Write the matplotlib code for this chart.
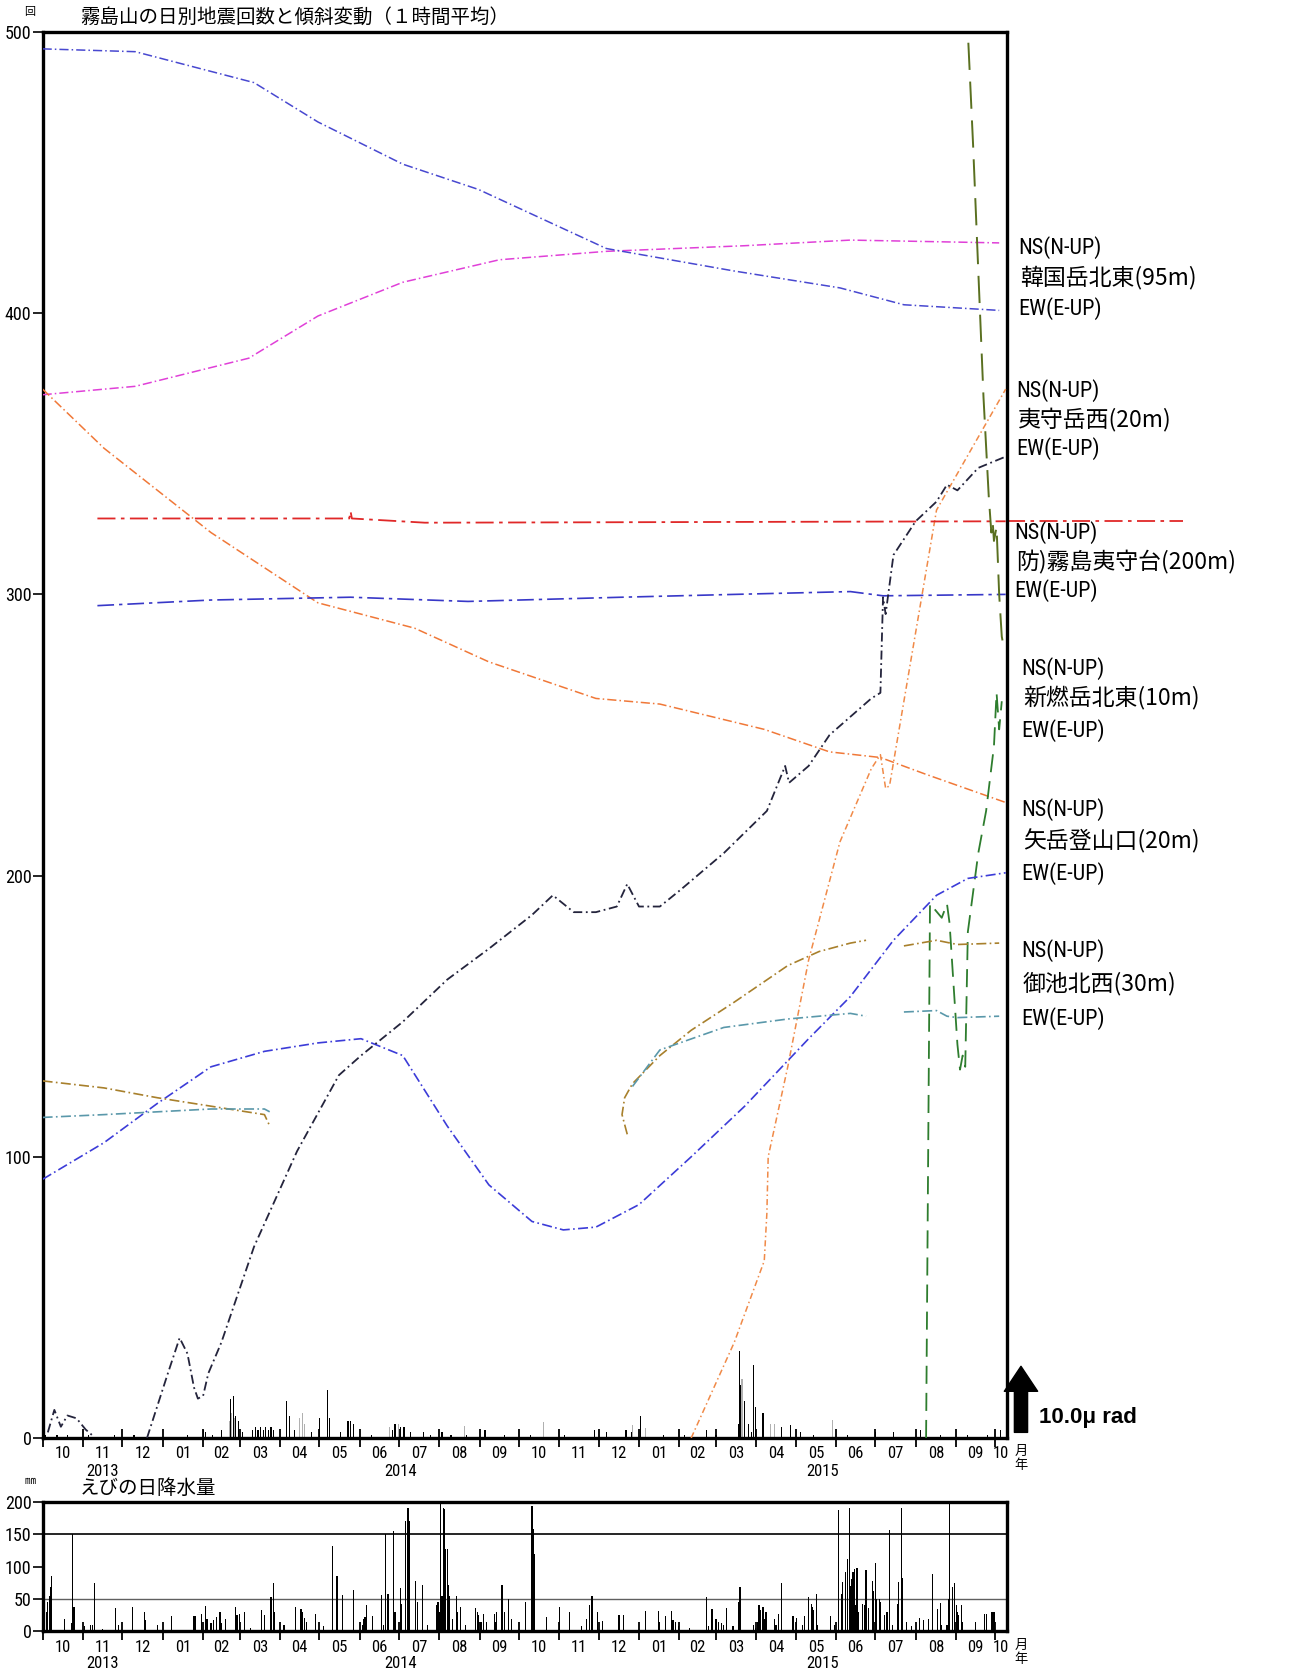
import numpy as np
import pandas as pd
import matplotlib
matplotlib.use('Agg')
import matplotlib.pyplot as plt
import matplotlib.transforms as mtransforms

plt.rcParams['font.family'] = ['Noto Sans CJK JP', 'DejaVu Sans']
NARROW = ['Liberation Sans Narrow', 'Roboto Condensed', 'Liberation Sans', 'DejaVu Sans']

W, H = 1300, 1671
x_start, x_end = pd.Timestamp('2013-10-01'), pd.Timestamp('2015-10-10')

# --- tilt records, drawn on the count scale with their own offsets ---
kara_ns_d = ['2013-10-01', '2013-12-11', '2014-03-08', '2014-04-30', '2014-07-04', '2014-09-16',
             '2014-12-07', '2015-03-23', '2015-06-12', '2015-10-04']
kara_ns_v = [371, 374, 384, 399, 411, 419, 422, 424, 426, 425]

kara_ew_d = ['2013-10-01', '2013-12-11', '2014-03-12', '2014-04-30', '2014-07-04', '2014-08-31',
             '2014-12-07', '2015-03-15', '2015-06-04', '2015-07-23', '2015-10-04']
kara_ew_v = [494, 493, 482, 468, 453, 444, 423, 415, 409, 403, 401]

ebino_ns_d = ['2013-10-01', '2013-11-17', '2014-02-07', '2014-04-30', '2014-07-13', '2014-09-08',
              '2014-11-29', '2015-01-17', '2015-04-07', '2015-05-27', '2015-07-05', '2015-08-09',
              '2015-10-09']
ebino_ns_v = [373, 352, 322, 297, 288, 276, 263, 261, 252, 244, 242, 236, 226]

ebino_ew_d = ['2015-02-10', '2015-03-15', '2015-04-07', '2015-04-09', '2015-04-10', '2015-04-25',
              '2015-05-11', '2015-06-04', '2015-06-28', '2015-07-05', '2015-07-09', '2015-07-12',
              '2015-07-23', '2015-08-17', '2015-10-09']
ebino_ew_v = [0, 34, 63, 80, 100, 132, 170, 212, 238, 243, 231, 232, 262, 330, 373]

kiri_ns_d = ['2013-11-12', '2014-05-24', '2014-05-25', '2014-05-26', '2014-07-21', '2015-10-09']
kiri_ns_v = [327, 327, 329.5, 327, 325.5, 326]

kiri_ew_d = ['2013-11-12', '2014-02-07', '2014-05-25', '2014-08-23', '2014-12-19', '2015-03-15',
             '2015-06-12', '2015-07-07', '2015-10-09']
kiri_ew_v = [296, 298, 299, 297.5, 299, 300, 301, 299.5, 300]

shin_ns_d = ['2015-09-09', '2015-09-14', '2015-09-18', '2015-09-22', '2015-09-26', '2015-09-28',
             '2015-09-29', '2015-09-30', '2015-10-02', '2015-10-04', '2015-10-06', '2015-10-08']
shin_ns_v = [510, 460, 415, 370, 335, 322, 326, 319, 324, 300, 285, 280]

shin_ew_d = ['2015-08-09', '2015-08-12', '2015-08-21', '2015-08-25', '2015-08-27', '2015-09-02',
             '2015-09-04', '2015-09-06', '2015-09-08', '2015-09-10', '2015-09-18', '2015-09-24',
             '2015-09-30', '2015-10-02', '2015-10-04', '2015-10-06']
shin_ew_v = [0, 190, 185, 190, 183, 140, 131, 136, 132, 180, 208, 223, 246, 265, 252, 262]

yadake_ns_d = ['2013-10-01', '2013-11-17', '2013-12-28', '2014-02-07', '2014-03-20', '2014-04-30',
               '2014-06-02', '2014-07-04', '2014-08-07', '2014-09-08', '2014-10-11', '2014-11-04',
               '2014-11-29', '2015-01-01', '2015-02-10', '2015-03-23', '2015-05-11', '2015-06-12',
               '2015-07-15', '2015-08-17', '2015-09-10', '2015-10-09']
yadake_ns_v = [92, 105, 119, 132, 137.5, 140.5, 142, 136, 111, 90, 77, 74, 75, 83, 100, 118, 142, 157,
               177, 193, 199, 201]

yadake_ew_d = ['2013-10-05', '2013-10-10', '2013-10-15', '2013-10-20', '2013-10-27', '2013-11-03',
               '2013-11-08', '2013-11-09', '2013-12-20', '2014-01-05', '2014-01-14', '2014-01-20',
               '2014-01-25', '2014-01-28', '2014-02-01', '2014-02-05', '2014-02-15', '2014-03-12',
               '2014-04-14', '2014-05-16', '2014-06-02', '2014-07-04', '2014-08-07', '2014-09-08',
               '2014-10-11', '2014-10-27', '2014-11-12', '2014-11-29', '2014-12-15', '2014-12-23',
               '2015-01-01', '2015-01-17', '2015-02-02', '2015-03-07', '2015-04-09', '2015-04-23',
               '2015-04-26', '2015-05-11', '2015-05-27', '2015-06-28', '2015-07-05', '2015-07-07',
               '2015-07-09', '2015-07-15', '2015-08-01', '2015-08-17', '2015-08-25', '2015-09-02',
               '2015-09-18', '2015-10-09']
yadake_ew_v = [2, 10, 4, 8, 7, 3, 1, None, 0, 23, 35.6, 30, 18, 14, 15, 23, 34, 68, 102, 129, 136,
               148, 163, 174, 186, 193, 187, 187, 189, 197, 189, 189, 195, 208, 223, 239, 233, 239,
               250, 263, 265, 299, 293, 314, 326, 333, 339, 337, 345, 349]

mi_ns_d = ['2013-10-01', '2013-11-17', '2013-12-28', '2014-02-07', '2014-03-20', '2014-03-24',
           '2014-03-25', '2014-12-23', '2014-12-19', '2014-12-21', '2014-12-27', '2015-01-17',
           '2015-02-10', '2015-03-15', '2015-04-25', '2015-05-19', '2015-06-12', '2015-06-24',
           '2015-06-25', '2015-07-23', '2015-08-17', '2015-09-02', '2015-10-04']
mi_ns_v = [127, 124.5, 121, 118, 115, 111, None, 108, 115, 121, 126, 136, 145, 155, 168, 173, 176, 177,
           None, 175, 177, 175.5, 176]

mi_ew_d = ['2013-10-01', '2013-11-17', '2013-12-28', '2014-02-07', '2014-03-20', '2014-03-24',
           '2014-03-25', '2014-12-27', '2015-01-17', '2015-03-07', '2015-04-25', '2015-06-12',
           '2015-06-24', '2015-06-25', '2015-07-23', '2015-08-17', '2015-08-25', '2015-09-02',
           '2015-10-04']
mi_ew_v = [114, 115, 116, 117, 117, 116, None, 125, 138, 146, 149, 151, 150, None, 151.5, 152, 150,
           149.5, 150]

# --- daily earthquake counts ---
quake_d = ['2013-10-03', '2013-10-12', '2013-10-20', '2013-11-05', '2013-11-25', '2013-12-10',
           '2014-01-20', '2014-02-01', '2014-02-03', '2014-02-08', '2014-02-15', '2014-02-22',
           '2014-02-24', '2014-02-26', '2014-02-28', '2014-03-03', '2014-03-11', '2014-03-13',
           '2014-03-15', '2014-03-17', '2014-03-19', '2014-03-21', '2014-03-23', '2014-03-25',
           '2014-03-27', '2014-04-06', '2014-04-08', '2014-04-12', '2014-04-25', '2014-05-01',
           '2014-05-07', '2014-05-09', '2014-05-17', '2014-05-23', '2014-05-25', '2014-05-27',
           '2014-06-10', '2014-06-26', '2014-06-28', '2014-07-02', '2014-07-05', '2014-07-10',
           '2014-07-20', '2014-07-25', '2014-08-03', '2014-08-10', '2014-08-22', '2014-09-05',
           '2014-09-20', '2014-10-10', '2014-11-05', '2014-11-28', '2014-12-07', '2014-12-22',
           '2014-12-26', '2015-01-02', '2015-01-20', '2015-02-05', '2015-02-22', '2015-03-01',
           '2015-03-18', '2015-03-19', '2015-03-20', '2015-03-23', '2015-03-26', '2015-03-28',
           '2015-03-30', '2015-03-31', '2015-04-06', '2015-04-20', '2015-04-27', '2015-05-05',
           '2015-05-15', '2015-06-10', '2015-07-01', '2015-07-15', '2015-08-05', '2015-08-20',
           '2015-09-10', '2015-09-25', '2015-10-05']
quake_n = [1, 1, 1, 1, 1, 1, 1, 3, 2, 1, 3, 14, 15, 8, 6, 2, 3, 4, 3, 4, 3, 4, 3, 4, 3, 13, 8, 3, 2, 7,
           17, 7, 2, 6, 6, 5, 1, 3, 5, 4, 4, 2, 2, 1, 2, 1, 1, 3, 1, 1, 1, 3, 2, 3, 2, 8, 1, 1, 3, 1,
           5, 31, 19, 13, 5, 2, 26, 11, 9, 4, 4.5, 2, 1, 1, 2, 2, 3, 1, 1, 1, 3]

quake_lf_d = ['2014-02-21', '2014-02-23', '2014-02-25', '2014-04-16', '2014-04-18', '2014-04-20',
              '2014-06-24', '2014-07-01', '2014-08-20', '2014-10-20', '2014-12-27', '2015-01-06',
              '2015-03-21', '2015-04-12', '2015-04-15', '2015-05-29']
quake_lf_n = [6, 9, 7, 7, 9, 5, 4, 5, 4.4, 5.6, 4.7, 3.5, 21, 5, 5, 6.5]

# --- daily precipitation at Ebino (mm) ---
rain_d = ['2013-10-04', '2013-10-05', '2013-10-06', '2013-10-07', '2013-10-08', '2013-10-18',
          '2013-10-23', '2013-10-24', '2013-10-25', '2013-11-02', '2013-11-07', '2013-11-08',
          '2013-11-10', '2013-11-16', '2013-11-26', '2013-11-28', '2013-12-09', '2013-12-18',
          '2013-12-19', '2013-12-28', '2014-01-08', '2014-01-25', '2014-01-26', '2014-01-31',
          '2014-02-03', '2014-02-04', '2014-02-07', '2014-02-09', '2014-02-11', '2014-02-14',
          '2014-02-15', '2014-02-18', '2014-02-26', '2014-02-27', '2014-03-01', '2014-03-05',
          '2014-03-09', '2014-03-18', '2014-03-20', '2014-03-25', '2014-03-27', '2014-03-28',
          '2014-04-04', '2014-04-13', '2014-04-17', '2014-04-18', '2014-04-20', '2014-04-21',
          '2014-04-28', '2014-05-04', '2014-05-11', '2014-05-14', '2014-05-15', '2014-05-19',
          '2014-05-27', '2014-06-03', '2014-06-04', '2014-06-05', '2014-06-06', '2014-06-11',
          '2014-06-18', '2014-06-19', '2014-06-21', '2014-06-22', '2014-06-23', '2014-06-27',
          '2014-06-28', '2014-07-02', '2014-07-03', '2014-07-06', '2014-07-08', '2014-07-09',
          '2014-07-14', '2014-07-15', '2014-07-19', '2014-07-23', '2014-07-30', '2014-07-31',
          '2014-08-01', '2014-08-02', '2014-08-03', '2014-08-04', '2014-08-05', '2014-08-06',
          '2014-08-07', '2014-08-08', '2014-08-09', '2014-08-11', '2014-08-14', '2014-08-15',
          '2014-08-17', '2014-08-21', '2014-08-29', '2014-08-30', '2014-08-31', '2014-09-02',
          '2014-09-04', '2014-09-06', '2014-09-12', '2014-09-13', '2014-09-14', '2014-09-18',
          '2014-09-20', '2014-09-23', '2014-09-25', '2014-10-06', '2014-10-11', '2014-10-12',
          '2014-10-13', '2014-10-22', '2014-11-01', '2014-11-09', '2014-11-18', '2014-11-22',
          '2014-11-24', '2014-11-26', '2014-11-30', '2014-12-04', '2014-12-16', '2014-12-17',
          '2014-12-20', '2015-01-06', '2015-01-16', '2015-01-17', '2015-01-21', '2015-01-26',
          '2015-01-27', '2015-01-29', '2015-01-31', '2015-02-09', '2015-02-22', '2015-02-23',
          '2015-02-26', '2015-03-01', '2015-03-03', '2015-03-05', '2015-03-07', '2015-03-09',
          '2015-03-14', '2015-03-18', '2015-03-19', '2015-03-20', '2015-03-30', '2015-03-31',
          '2015-04-02', '2015-04-03', '2015-04-04', '2015-04-06', '2015-04-07', '2015-04-08',
          '2015-04-09', '2015-04-15', '2015-04-16', '2015-04-18', '2015-04-20', '2015-04-29',
          '2015-05-02', '2015-05-06', '2015-05-08', '2015-05-11', '2015-05-13', '2015-05-14',
          '2015-05-15', '2015-05-17', '2015-05-18', '2015-05-28', '2015-05-31', '2015-06-03',
          '2015-06-05', '2015-06-06', '2015-06-08', '2015-06-10', '2015-06-11', '2015-06-12',
          '2015-06-13', '2015-06-14', '2015-06-15', '2015-06-16', '2015-06-17', '2015-06-18',
          '2015-06-21', '2015-06-23', '2015-06-24', '2015-06-26', '2015-06-29', '2015-06-30',
          '2015-07-01', '2015-07-02', '2015-07-04', '2015-07-05', '2015-07-08', '2015-07-10',
          '2015-07-12', '2015-07-14', '2015-07-18', '2015-07-19', '2015-07-21', '2015-07-22',
          '2015-07-25', '2015-07-29', '2015-08-04', '2015-08-07', '2015-08-11', '2015-08-14',
          '2015-08-18', '2015-08-20', '2015-08-21', '2015-08-25', '2015-08-26', '2015-08-27',
          '2015-08-29', '2015-08-31', '2015-09-01', '2015-09-02', '2015-09-03', '2015-09-05',
          '2015-09-06', '2015-09-16', '2015-09-23', '2015-09-24', '2015-09-28', '2015-09-29',
          '2015-09-30']
rain_mm = [30, 45, 55, 68, 85, 18, 13, 150, 37, 7, 9, 10, 75, 3, 35, 9, 37, 29, 17, 9, 23, 23, 23,
           27, 39, 19, 13, 17, 22, 30, 13, 19, 37, 25, 26, 29, 4, 32, 25, 52, 75, 30, 9, 37, 34,
           30, 20, 14, 27, 7, 132, 86, 86, 56, 64, 9, 19, 22, 40, 24, 56, 9, 151, 58, 58, 155, 30,
           66, 42, 171, 191, 171, 78, 45, 72, 9, 40, 45, 30, 204, 55, 191, 189, 127, 127, 71, 55,
           19, 55, 30, 37, 9, 35, 30, 25, 14, 27, 14, 27, 14, 30, 72, 30, 50, 19, 45, 194, 158,
           120, 22, 37, 30, 7, 19, 40, 55, 30, 16, 25, 25, 25, 31, 31, 14, 24, 31, 17, 14, 7, 4,
           53, 7, 34, 19, 14, 12, 9, 36, 7, 45, 68, 68, 9, 5, 14, 41, 32, 37, 19, 30, 30, 18, 9,
           27, 75, 23, 20, 9, 23, 52, 42, 37, 32, 58, 9, 23, 9, 187, 58, 76, 91, 112, 190, 70, 80,
           92, 96, 40, 97, 30, 42, 41, 94, 35, 78, 62, 105, 50, 50, 45, 25, 30, 157, 9, 42, 76,
           191, 82, 14, 7, 20, 17, 19, 89, 34, 44, 9, 9, 50, 200, 68, 75, 40, 30, 25, 40, 14, 14,
           27, 27, 30, 30, 30]

stations = ['韓国岳北東(95m)', '夷守岳西(20m)', '防)霧島夷守台(200m)', '新燃岳北東(10m)',
            '矢岳登山口(20m)', '御池北西(30m)']
# (NS, EW) pairs in station order
series = [
    ((kara_ns_d, kara_ns_v, '#e040d8', (0, (6, 2, 1, 2)), 1.1),
     (kara_ew_d, kara_ew_v, '#4848d0', (0, (6, 2, 1, 2)), 1.1)),
    ((ebino_ns_d, ebino_ns_v, '#f07838', (0, (6, 2, 1, 2)), 1.1),
     (ebino_ew_d, ebino_ew_v, '#f08a48', (0, (4, 2, 1, 2)), 1.1)),
    ((kiri_ns_d, kiri_ns_v, '#e02828', (0, (10, 3, 2, 3)), 1.3),
     (kiri_ew_d, kiri_ew_v, '#3838c8', (0, (10, 3, 2, 3)), 1.2)),
    ((shin_ns_d, shin_ns_v, '#5a7020', (0, (14, 6)), 1.4),
     (shin_ew_d, shin_ew_v, '#2e7d2e', (0, (10, 5)), 1.3)),
    ((yadake_ns_d, yadake_ns_v, '#3c3cd8', (0, (6, 2, 1, 2)), 1.2),
     (yadake_ew_d, yadake_ew_v, '#24243c', (0, (5, 2, 1, 2)), 1.3)),
    ((mi_ns_d, mi_ns_v, '#a8802c', (0, (6, 2, 1, 2)), 1.2),
     (mi_ew_d, mi_ew_v, '#5a98aa', (0, (6, 2, 1, 2)), 1.2)),
]


def fx(px):
    return px / W


def fy(py):
    return 1 - py / H


def date_axis(ax, lab_y, year_y):
    months = pd.date_range(x_start, x_end, freq='MS')
    jans = [m for m in months if m.month == 1]
    ax.set_xlim(x_start, x_end)
    ax.set_xticks(months)
    ax.set_xticklabels([])
    ax.set_xticks(jans, minor=True)
    ax.tick_params(axis='x', which='major', direction='inout', length=13, width=1.3)
    ax.tick_params(axis='x', which='minor', direction='out', length=30, width=2.2)
    tr = mtransforms.blended_transform_factory(ax.transData, fig.transFigure)
    for m in months:
        end = min(m + pd.offsets.MonthBegin(1), x_end)
        mid = m + (end - m) / 2
        ax.text(mid, fy(lab_y), f'{m.month:02d}', transform=tr, ha='center', va='center',
                fontsize=12, family=NARROW, fontstretch='condensed')
    for yr in (2013, 2014, 2015):
        a = max(pd.Timestamp(f'{yr}-01-01'), x_start)
        b = min(pd.Timestamp(f'{yr + 1}-01-01'), x_end)
        ax.text(a + (b - a) / 2, fy(year_y), str(yr), transform=tr, ha='center', va='center',
                fontsize=12, family=NARROW, fontstretch='condensed')
    fig.text(fx(1021), fy(lab_y - 3), '月', ha='center', va='center', fontsize=9.5)
    fig.text(fx(1021), fy(lab_y + 12), '年', ha='center', va='center', fontsize=9.5)


fig = plt.figure(figsize=(W / 100, H / 100), dpi=100)
ax = fig.add_axes([fx(42.6), fy(1438), fx(1007 - 42.6), (1438 - 32) / H])
ax2 = fig.add_axes([fx(42.6), fy(1631), fx(1007 - 42.6), (1631 - 1502) / H])

# earthquake counts
ax.bar(pd.to_datetime(quake_lf_d), quake_lf_n, width=0.9, color='#b0b0b0', zorder=2)
ax.bar(pd.to_datetime(quake_d), quake_n, width=0.9, color='black', zorder=2)

# tilt traces
for ns, ew in series:
    for d, v, c, ls, lw in (ns, ew):
        ax.plot(pd.to_datetime(d), np.array(v, dtype=float), color=c, ls=ls, lw=lw, zorder=3)

# the 夷守台 NS trace runs on past the frame
blend = mtransforms.blended_transform_factory(ax.transAxes, ax.transData)
ax.plot([1.0, 1.182], [kiri_ns_v[-1], kiri_ns_v[-1]], transform=blend, color='#e02828',
        ls=(0, (10, 3, 2, 3)), lw=1.3, clip_on=False)

ax.set_ylim(0, 500)
ax.set_yticks(range(0, 501, 100))
ax.set_yticklabels([str(v) for v in range(0, 501, 100)], family=NARROW, fontsize=13,
                   fontstretch='condensed')
ax.tick_params(axis='y', direction='out', length=7, width=1.2, pad=1)
for s in ax.spines.values():
    s.set_linewidth(2.4)
date_axis(ax, 1454, 1471)

# 10 μrad scale arrow
scale_urad = 23.5
ax.annotate('', xy=(1.0145, 2 + scale_urad), xytext=(1.0145, 2), xycoords=blend,
            arrowprops=dict(width=9.5, headwidth=24, headlength=18, shrink=0, color='black'),
            annotation_clip=False)
fig.text(fx(1039), fy(1417), '10.0μ rad', fontsize=16, fontweight='bold',
         family=['Liberation Sans', 'DejaVu Sans'], va='center', ha='left')

# station names and components
label_x = [1018, 1016, 1014, 1021, 1021, 1021]
label_y = [(248, 277, 309), (391, 419, 449), (533, 562, 591), (669, 697, 731), (810, 841, 874),
           (951, 984, 1019)]
for name, lx, (yn, ym, ye) in zip(stations, label_x, label_y):
    fig.text(fx(lx), fy(yn), 'NS(N-UP)', fontsize=16, family=NARROW, fontstretch='condensed',
             va='center')
    fig.text(fx(lx + 2), fy(ym), name, fontsize=16.5, va='center')
    fig.text(fx(lx), fy(ye), 'EW(E-UP)', fontsize=16, family=NARROW, fontstretch='condensed',
             va='center')

fig.text(fx(80), fy(17), '霧島山の日別地震回数と傾斜変動（１時間平均）', fontsize=14, va='center')
fig.text(fx(30), fy(12), '回', fontsize=8, ha='center', va='center')

# precipitation
ax2.bar(pd.to_datetime(rain_d), rain_mm, width=0.9, color='black', zorder=2)
ax2.axhline(50, color='#606060', lw=1.0, zorder=1)
ax2.axhline(150, color='black', lw=1.2, zorder=1)
ax2.set_ylim(0, 200)
ax2.set_yticks(range(0, 201, 50))
ax2.set_yticklabels([str(v) for v in range(0, 201, 50)], family=NARROW, fontsize=13,
                    fontstretch='condensed')
ax2.tick_params(axis='y', direction='out', length=7, width=1.2, pad=1)
for s in ax2.spines.values():
    s.set_linewidth(2.4)
date_axis(ax2, 1648, 1663)
fig.text(fx(80), fy(1488), 'えびの日降水量', fontsize=14, va='center')
fig.text(fx(30), fy(1481), '㎜', fontsize=8, ha='center', va='center')

fig.savefig('out.png', dpi=100, facecolor='white')
